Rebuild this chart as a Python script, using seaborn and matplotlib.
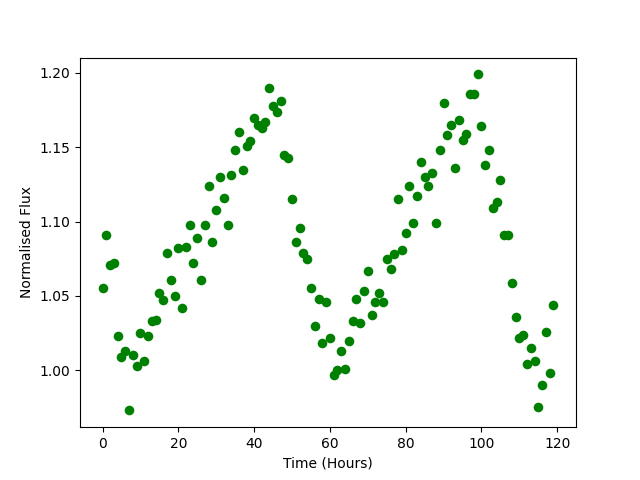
import numpy as np
import pandas as pd
import matplotlib
matplotlib.use("Agg")
import matplotlib.pyplot as plt
import seaborn as sns

# hourly time stamps
hours = list(range(120))

# normalised flux
flux = [
    1.055, 1.091, 1.071, 1.072, 1.023, 1.009, 1.013, 0.973, 1.010, 1.003,
    1.025, 1.006, 1.023, 1.033, 1.034, 1.052, 1.047, 1.079, 1.061, 1.050,
    1.082, 1.042, 1.083, 1.098, 1.072, 1.089, 1.061, 1.098, 1.124, 1.086,
    1.108, 1.130, 1.116, 1.098, 1.131, 1.148, 1.160, 1.135, 1.151, 1.154,
    1.170, 1.165, 1.163, 1.167, 1.190, 1.178, 1.174, 1.181, 1.145, 1.143,
    1.115, 1.086, 1.096, 1.079, 1.075, 1.055, 1.030, 1.048, 1.018, 1.046,
    1.022, 0.997, 1.000, 1.013, 1.001, 1.020, 1.033, 1.048, 1.032, 1.053,
    1.067, 1.037, 1.046, 1.052, 1.046, 1.075, 1.068, 1.078, 1.115, 1.081,
    1.092, 1.124, 1.099, 1.117, 1.140, 1.130, 1.124, 1.133, 1.099, 1.148,
    1.180, 1.158, 1.165, 1.136, 1.168, 1.155, 1.159, 1.186, 1.186, 1.199,
    1.164, 1.138, 1.148, 1.109, 1.113, 1.128, 1.091, 1.091, 1.059, 1.036,
    1.022, 1.024, 1.004, 1.015, 1.006, 0.975, 0.990, 1.026, 0.998, 1.044,
]

df = pd.DataFrame({"Time": hours, "Flux": flux})

fig, ax = plt.subplots(figsize=(6.4, 4.8), dpi=100)
sns.scatterplot(data=df, x="Time", y="Flux", color="green", s=48,
                linewidth=0, ax=ax)
ax.set_xlabel("Time (Hours)")
ax.set_ylabel("Normalised Flux")

fig.savefig("out.png", dpi=100)
plt.close(fig)
